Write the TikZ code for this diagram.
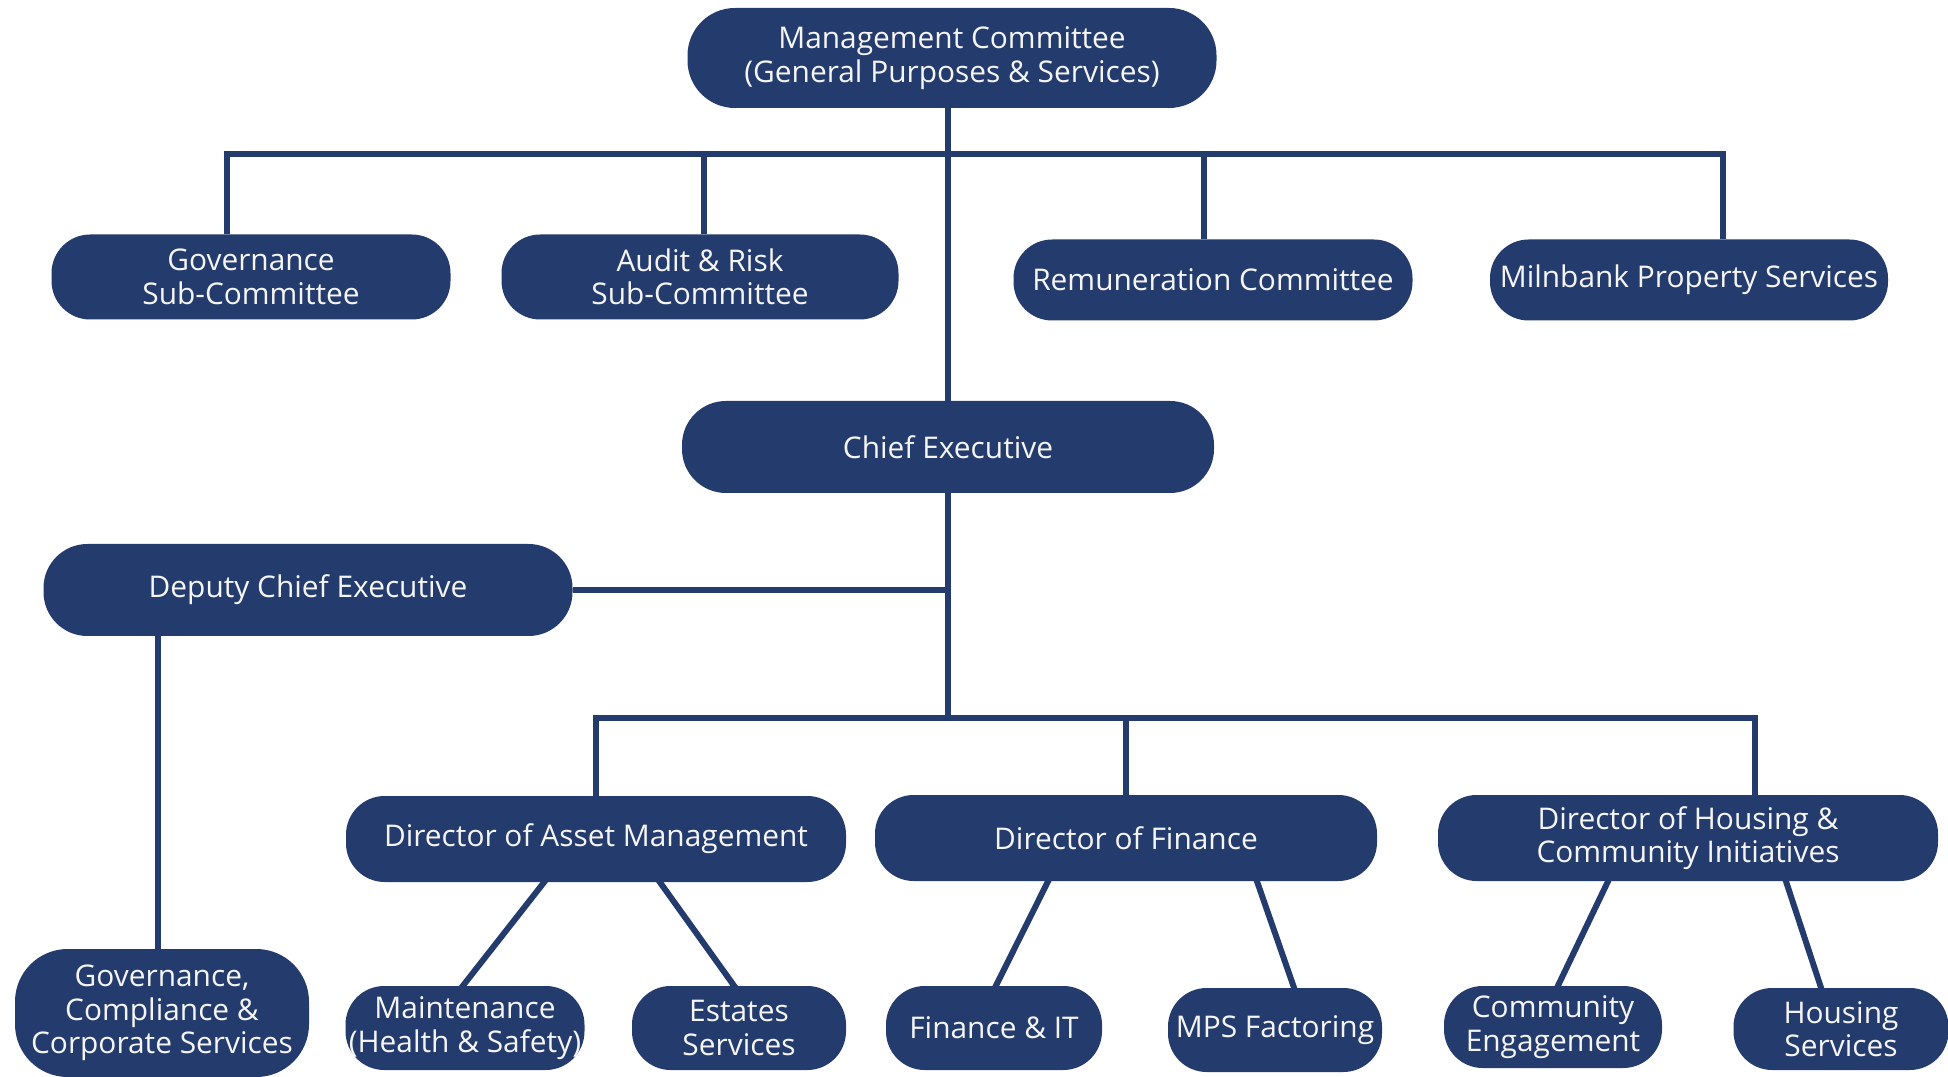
\documentclass[tikz,border=0pt]{standalone}
\usepackage{fontspec}
\setmainfont{Open Sans}
\usepackage{xcolor}
\usetikzlibrary{calc,backgrounds}
\definecolor{navy}{HTML}{243C6D}
\definecolor{paper}{HTML}{F5F5F5}
\tikzset{
  post/.style ={fill=navy, text=paper, rounded corners=22pt, align=center,
                inner sep=0pt, font=\fontsize{17}{19}\selectfont},
  sz/.style 2 args={minimum width=#1*0.02cm, minimum height=#2*0.02cm},
  link/.style ={draw=navy, line width=3.4pt},
  slant/.style ={link, shorten <=-3pt, shorten >=-3pt},
}

\begin{document}
\begin{tikzpicture}[x=0.02cm,y=-0.02cm]
  \useasboundingbox (0,0) rectangle (1948,1077);
  % --- board and committees ---
  \node[post,sz={529}{100},rounded corners=27pt](mc) at (952,58){Management Committee\\(General Purposes \& Services)};
  \node[post,sz={399}{85}](gov) at (251,277){Governance\\Sub-Committee};
  \node[post,sz={397}{85}](audit) at (700,277){Audit \& Risk\\Sub-Committee};
  \node[post,sz={399}{81}](remun) at (1213,280){Remuneration Committee};
  \node[post,sz={398}{81}](milnbank) at (1689,280){Milnbank Property Services};
  % --- executive ---
  \node[post,sz={532}{92},rounded corners=25pt](ce) at (948,447){Chief Executive};
  \node[post,sz={529}{92},rounded corners=25pt](dce) at (308,590){Deputy Chief Executive};
  \node[post,sz={294}{128},rounded corners=30pt](gcc) at (162,1013){Governance,\\Compliance \&\\Corporate Services};
  % --- directors ---
  \node[post,sz={500}{86}](dam) at (596,839){Director of Asset Management};
  \node[post,sz={502}{86}](dof) at (1126,838){Director of Finance};
  \node[post,sz={500}{86}](dhci) at (1688,838){Director of Housing \&\\Community Initiatives};
  % --- services ---
  \node[post,sz={239}{84}](maint) at (465,1028){Maintenance\\(Health \& Safety)};
  \node[post,sz={214}{84}](estates) at (739,1028){Estates\\Services};
  \node[post,sz={216}{84}](fit) at (994,1028){Finance \& IT};
  \node[post,sz={214}{84}](mps) at (1275,1030){MPS Factoring};
  \node[post,sz={218}{82}](engage) at (1553,1027){Community\\Engagement};
  \node[post,sz={215}{82}](hserv) at (1841,1029){Housing\\Services};
  % bar junctions on the trunk
  \coordinate (top) at (948,154);
  \coordinate (dep) at (948,590);
  \coordinate (low) at (948,718);
  \begin{scope}[on background layer]
    \fill[white] (0,0) rectangle (1948,1077);
    \draw[link] (mc.south -| top) -- (ce.north -| top);
    \draw[link] (ce.south -| low) -- (low);
    \draw[link] ($(gov.north)+(-24,0)$) |- (top) -| ($(milnbank.north)+(34,0)$);
    \foreach \n/\dx in {audit/4,remun/-9}
       \draw[link] ($(\n.north)+(\dx,0)$) |- (top);
    \draw[link] (dce.east) -- (dep);
    \draw[link] ($(dce.south)+(-150,0)$) -- ($(gcc.north)+(-4,0)$);
    \draw[link] (dam.north) |- (low) -| ($(dhci.north)+(67,0)$);
    \draw[link] (dof.north) |- (low);
    % slanted links to the services
    \foreach \p/\a/\c/\b in {dam/-52/maint/-2,dam/64/estates/-5,dof/-78/fit/2,
                             dof/131/mps/19,dhci/-80/engage/5,dhci/98/hserv/-20}
       \draw[slant] ($(\p.south)+(\a,0)$) -- ($(\c.north)+(\b,0)$);
  \end{scope}
\end{tikzpicture}
\end{document}
